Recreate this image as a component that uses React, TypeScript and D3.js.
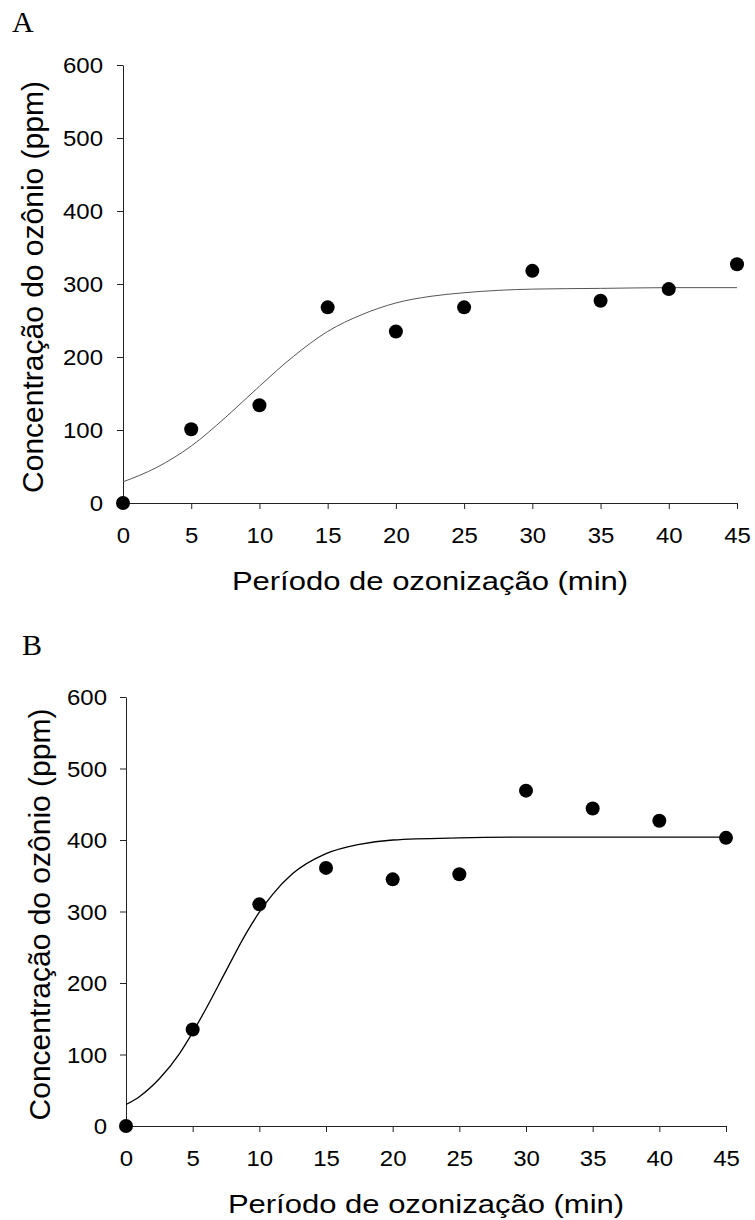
import * as d3 from 'd3';
import React, { useRef, useEffect } from 'react';

// ozone concentration (ppm) per ozonation period (min)
const minutes = [0, 5, 10, 15, 20, 25, 30, 35, 40, 45];
const ozoneA = [0, 101, 134, 268, 235, 268, 318, 277, 293, 327];
const ozoneB = [0, 135, 310, 361, 345, 352, 469, 444, 427, 403];

// fitted curves
const fitMinutesA = [0, 2.5, 5, 7.5, 10, 12.5, 15, 17.5, 20, 22.5, 25, 30, 35, 40, 45];
const fitA = [29, 49, 78, 117, 160, 201, 235, 258, 274, 283, 288, 293, 294, 295, 295];
const fitMinutesB = [0, 1, 2.5, 4, 5, 6, 7.5, 9, 10, 11, 12.5, 15, 17.5, 20, 25, 30, 45];
const fitB = [30, 41, 66, 101, 131, 164, 217, 269, 299, 324, 353, 381, 394, 400, 403, 404, 404];

const xTicks = [0, 5, 10, 15, 20, 25, 30, 35, 40, 45];
const yTicks = [0, 100, 200, 300, 400, 500, 600];

const xTitle = 'Período de ozonização (min)';
const yTitle = 'Concentração do ozônio (ppm)';

const SANS = '"Liberation Sans", Arial, sans-serif';
const SERIF = '"Liberation Serif", "Times New Roman", serif';

function App() {
    const ref = useRef(null);

    useEffect(() => {
        const svg = d3.select(ref.current);
        svg.selectAll('*').remove();

        const panels = [
            { letter: 'A', lx: 12, ly: 32, left: 123, right: 737, top: 65, bottom: 503,
              labelGap: 20, yTitleX: 43, curveColor: '#555', curveWidth: 1,
              points: ozoneA, fitX: fitMinutesA, fitY: fitA },
            { letter: 'B', lx: 22, ly: 655, left: 126, right: 726, top: 697, bottom: 1126,
              labelGap: 19, yTitleX: 50, curveColor: '#000', curveWidth: 1.3,
              points: ozoneB, fitX: fitMinutesB, fitY: fitB },
        ];

        panels.forEach(p => {
            const g = svg.append('g');
            const x = d3.scaleLinear().domain([0, 45]).range([p.left, p.right]);
            const y = d3.scaleLinear().domain([0, 600]).range([p.bottom, p.top]);

            // Y axis
            const yAxis = g.append('g')
                .attr('transform', `translate(${p.left},0)`)
                .call(d3.axisLeft(y).tickValues(yTicks).tickSize(6).tickSizeOuter(0));
            yAxis.select('.domain').attr('stroke', '#222');
            yAxis.selectAll('.tick line').attr('stroke', '#222');
            yAxis.selectAll('.tick text')
                .attr('x', null).attr('dy', '0.36em')
                .attr('transform', `translate(${-p.labelGap},0) scale(1.09,1)`)
                .attr('fill', '#000')
                .style('font-family', SANS).style('font-size', '22px');

            // X axis
            const xAxis = g.append('g')
                .attr('transform', `translate(0,${p.bottom})`)
                .call(d3.axisBottom(x).tickValues(xTicks).tickSize(6).tickSizeOuter(0));
            xAxis.select('.domain').attr('stroke', '#222');
            xAxis.selectAll('.tick line').attr('stroke', '#222');
            xAxis.selectAll('.tick text')
                .attr('y', null).attr('dy', null)
                .attr('transform', 'translate(0,40) scale(1.09,1)')
                .attr('fill', '#000')
                .style('font-family', SANS).style('font-size', '22px');

            // fitted curve
            const line = d3.line()
                .x((d, i) => x(p.fitX[i]))
                .y(d => y(d))
                .curve(d3.curveMonotoneX);
            g.append('path')
                .datum(p.fitY)
                .attr('d', line)
                .attr('fill', 'none')
                .attr('stroke', p.curveColor)
                .attr('stroke-width', p.curveWidth);

            // observed points
            g.selectAll('.dot')
                .data(p.points)
                .enter().append('circle')
                .attr('class', 'dot')
                .attr('cx', (d, i) => x(minutes[i]))
                .attr('cy', d => y(d))
                .attr('r', 7)
                .attr('fill', '#000');

            // titles
            g.append('text')
                .attr('transform', `translate(${(p.left + p.right) / 2},${p.bottom + 87}) scale(1.17,1)`)
                .attr('text-anchor', 'middle')
                .style('font-family', SANS).style('font-size', '26.5px')
                .text(xTitle);

            g.append('text')
                .attr('transform', `translate(${p.yTitleX},${(p.top + p.bottom) / 2 + 3}) rotate(-90)`)
                .attr('text-anchor', 'middle')
                .style('font-family', SANS).style('font-size', '30px')
                .text(yTitle);

            g.append('text')
                .attr('x', p.lx).attr('y', p.ly)
                .style('font-family', SERIF).style('font-size', '30px')
                .text(p.letter);
        });
    }, []);

    return (
        <svg ref={ref} width={755} height={1220}
             style={{ position: 'absolute', left: 0, top: 0, background: '#fff' }} />
    );
}

export default App;
